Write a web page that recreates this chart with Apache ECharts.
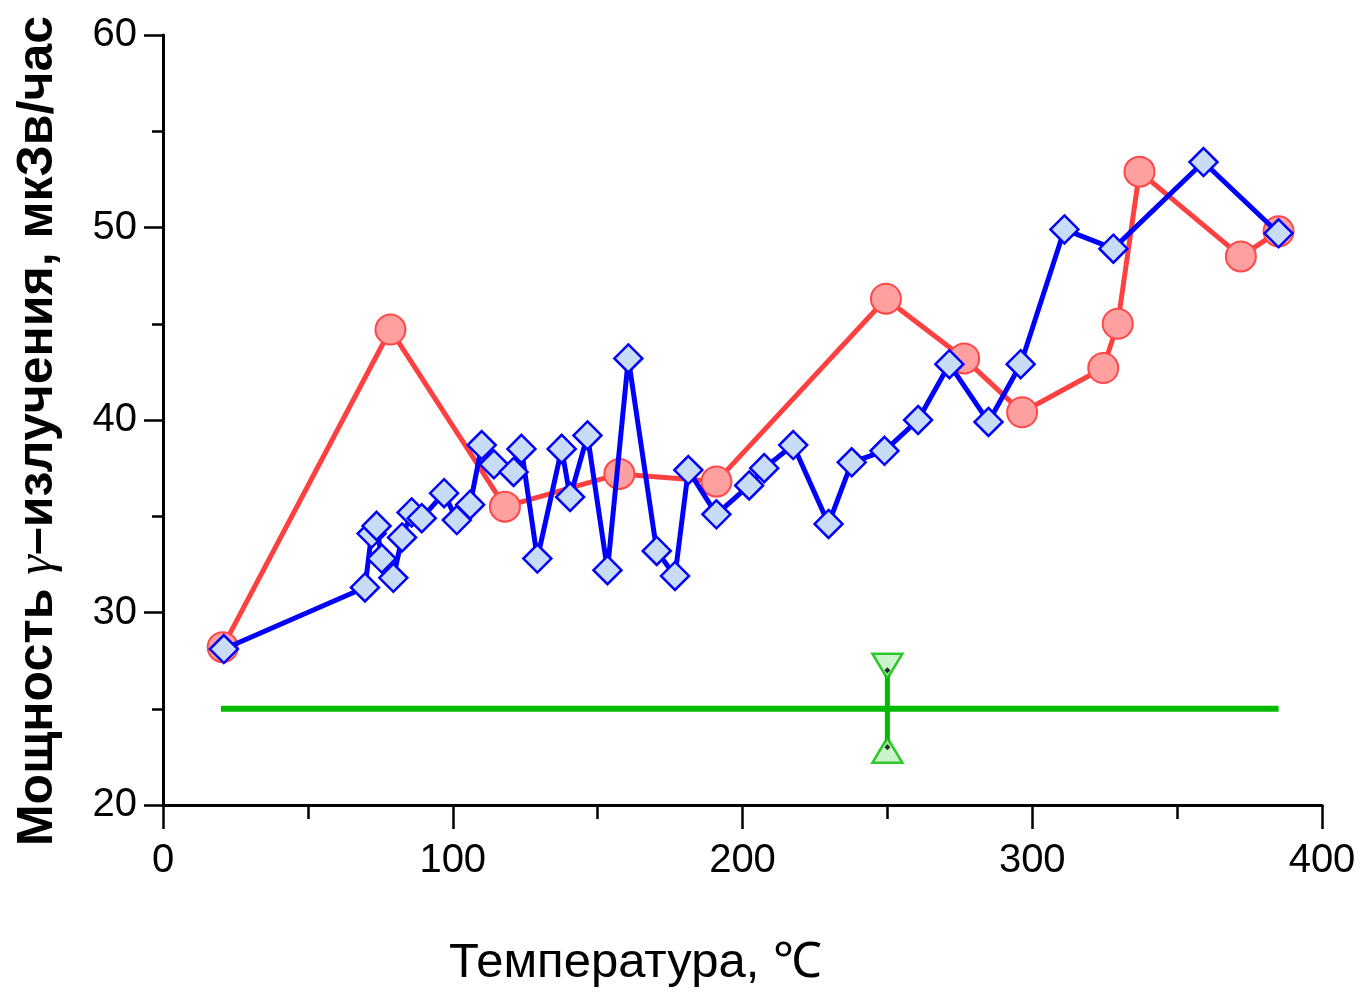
<!DOCTYPE html>
<html>
<head>
<meta charset="utf-8">
<script src="https://cdn.jsdelivr.net/npm/echarts@6/dist/echarts.min.js"></script>
<style>
  html, body { margin: 0; padding: 0; background: #fff; overflow: hidden; }
  #chart { width: 1363px; height: 993px; }
</style>
</head>
<body>
<div id="chart"></div>
<script>
// данные
var redX = [20.6, 78.5, 118, 157.5, 191, 249.5, 276.5, 296.5, 324.5, 329.5, 337, 372, 385];
var redY = [28.2, 44.7, 35.5, 37.2, 36.8, 46.3, 43.2, 40.4, 42.7, 45.0, 52.9, 48.5, 49.8];

var blueX = [21, 69.7, 72, 73.7, 75.5, 79.5, 82.5, 85.8, 89.3, 97, 101.4, 106, 110, 114.2, 121, 123.7,
  129.2, 137.6, 140.5, 146.5, 153.4, 160.6, 170.4, 176.7, 181.3, 191, 202.3, 207.5, 217.5, 229.7,
  237.7, 249, 260.6, 271.4, 284.9, 296, 311.1, 328, 359.1, 385];
var blueY = [28.1, 31.3, 34.1, 34.5, 32.8, 31.8, 33.9, 35.2, 34.9, 36.2, 34.8, 35.6, 38.7, 37.7, 37.3, 38.5,
  32.8, 38.5, 36.0, 39.2, 32.2, 43.2, 33.2, 31.9, 37.4, 35.1, 36.6, 37.5, 38.7, 34.6,
  37.8, 38.4, 40.0, 42.9, 39.9, 42.9, 49.9, 48.9, 53.4, 49.7];

var levelX = [20, 385];
var levelY = [25, 25];
var errX = 250;
var errLow = 23;
var errHigh = 27;

var xMin = 0, xMax = 400, xStep = 100;
var yMin = 20, yMax = 60, yStep = 10;

function zip(xs, ys) {
  return xs.map(function (x, i) { return [x, ys[i]]; });
}

var chart = echarts.init(document.getElementById('chart'), null, { renderer: 'canvas' });

var ink = '#000';
var font = 'Liberation Sans, Arial, sans-serif';
var tickStyle = { color: ink, width: 2.5 };

chart.setOption({
  animation: false,
  backgroundColor: '#fff',
  grid: { left: 163, right: 41, top: 35, bottom: 186, containLabel: false },
  xAxis: {
    type: 'value', min: xMin, max: xMax, interval: xStep,
    name: 'Температура, ℃',
    nameLocation: 'middle', nameGap: 134,
    nameTextStyle: { color: ink, fontSize: 49, fontFamily: font, padding: [0, 214, 0, 0] },
    axisLine: { lineStyle: { color: ink, width: 3 } },
    axisTick: { length: 24, lineStyle: tickStyle },
    minorTick: { show: true, splitNumber: 2, length: 14, lineStyle: tickStyle },
    splitLine: { show: false },
    axisLabel: { color: ink, fontSize: 40, fontFamily: font, margin: 36 }
  },
  yAxis: {
    type: 'value', min: yMin, max: yMax, interval: yStep,
    name: 'Мощность {g|γ}–излучения, мкЗв/час',
    nameLocation: 'middle', nameGap: 100, nameRotate: 90,
    nameTextStyle: {
      color: ink, fontSize: 50, fontWeight: 'bold', fontFamily: font, padding: [0, 22, 0, 0],
      rich: { g: { fontFamily: 'Liberation Serif, serif', fontStyle: 'italic', fontWeight: 'normal', fontSize: 50, color: ink } }
    },
    axisLine: { lineStyle: { color: ink, width: 3 } },
    axisTick: { length: 19, lineStyle: tickStyle },
    minorTick: { show: true, splitNumber: 2, length: 11, lineStyle: tickStyle },
    splitLine: { show: false },
    axisLabel: { color: ink, fontSize: 40, fontFamily: font, margin: 26 }
  },
  series: [
    {
      name: 'red', type: 'line', data: zip(redX, redY),
      lineStyle: { color: '#ff4040', width: 5 },
      symbol: 'circle', symbolSize: 30,
      itemStyle: { color: '#ffa0a0', borderColor: '#ff4848', borderWidth: 2 },
      z: 2
    },
    {
      name: 'blue', type: 'line', data: zip(blueX, blueY),
      lineStyle: { color: '#0000ff', width: 5 },
      symbol: 'diamond', symbolSize: 28,
      itemStyle: { color: '#c8dcf8', borderColor: '#0000ff', borderWidth: 2.5 },
      z: 3
    },
    {
      name: 'level', type: 'line', data: zip(levelX, levelY),
      lineStyle: { color: '#00bb00', width: 6 }, symbol: 'none', z: 4
    },
    {
      name: 'err', type: 'line', data: [[errX, errLow], [errX, errHigh]],
      lineStyle: { color: '#00bb00', width: 5 }, symbol: 'none', z: 4
    },
    {
      name: 'errTop', type: 'scatter', data: [[errX, errHigh]],
      symbol: 'triangle', symbolRotate: 180, symbolSize: [30, 25], symbolOffset: [0, -4],
      itemStyle: { color: '#c0f0c0', borderColor: '#00bb00', borderWidth: 2.5 }, z: 5
    },
    {
      name: 'errBottom', type: 'scatter', data: [[errX, errLow]],
      symbol: 'triangle', symbolSize: [30, 25], symbolOffset: [0, 3],
      itemStyle: { color: '#c0f0c0', borderColor: '#00bb00', borderWidth: 2.5 }, z: 5
    },
    {
      name: 'errDots', type: 'scatter', data: [[errX, errHigh], [errX, errLow]],
      symbol: 'diamond', symbolSize: 6, itemStyle: { color: '#000' }, z: 6
    }
  ]
});
</script>
</body>
</html>
